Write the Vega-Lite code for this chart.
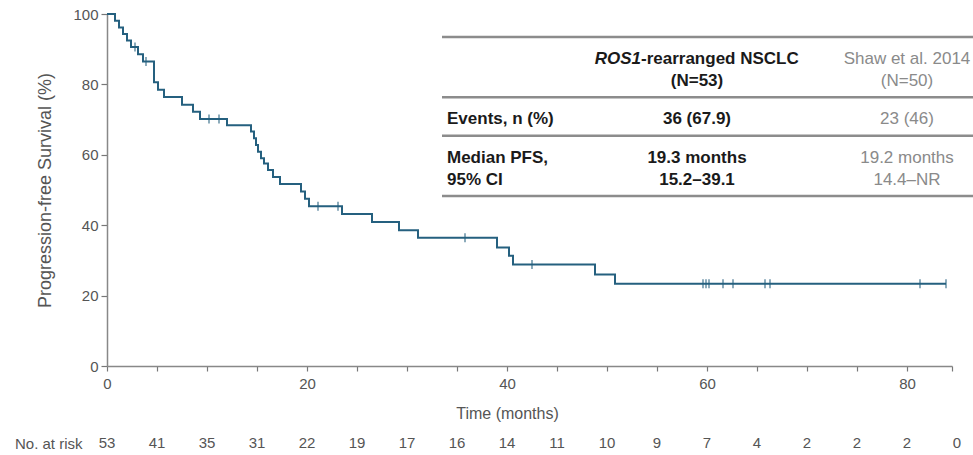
{
  "$schema": "https://vega.github.io/schema/vega-lite/v6.json",
  "padding": {"left": 14, "top": 7, "right": 0, "bottom": 0},
  "background": "white",
  "config": {
    "view": {"stroke": null},
    "font": "Liberation Sans",
    "axis": {"labelFont": "Liberation Sans", "titleFont": "Liberation Sans", "grid": false}
  },
  "spacing": 12,
  "datasets": {
    "curve": [
      {"t": 0, "s": 100}, {"t": 0.8, "s": 98.1}, {"t": 1.2, "s": 96.2}, {"t": 1.6, "s": 94.3},
      {"t": 2.0, "s": 92.5}, {"t": 2.4, "s": 90.6}, {"t": 3.1, "s": 88.6}, {"t": 3.6, "s": 86.5},
      {"t": 4.7, "s": 80.6}, {"t": 5.1, "s": 78.5}, {"t": 5.7, "s": 76.4}, {"t": 7.5, "s": 74.2},
      {"t": 8.6, "s": 72.2}, {"t": 9.3, "s": 70.2}, {"t": 12.0, "s": 68.4}, {"t": 14.4, "s": 66.6},
      {"t": 14.7, "s": 64.7}, {"t": 14.9, "s": 62.8}, {"t": 15.1, "s": 60.9}, {"t": 15.4, "s": 59.0},
      {"t": 15.7, "s": 57.5}, {"t": 16.1, "s": 55.7}, {"t": 16.6, "s": 53.7}, {"t": 17.3, "s": 51.7},
      {"t": 19.4, "s": 49.6}, {"t": 19.8, "s": 47.5}, {"t": 20.2, "s": 45.4}, {"t": 23.5, "s": 43.2},
      {"t": 26.5, "s": 40.9}, {"t": 29.2, "s": 38.6}, {"t": 31.1, "s": 36.4}, {"t": 39.0, "s": 33.7},
      {"t": 40.2, "s": 31.3}, {"t": 40.6, "s": 28.8}, {"t": 48.8, "s": 26.0}, {"t": 50.8, "s": 23.4},
      {"t": 83.9, "s": 23.4}
    ],
    "censor": [
      {"t": 2.8, "s": 90.6}, {"t": 3.9, "s": 86.5}, {"t": 10.2, "s": 70.2}, {"t": 11.2, "s": 70.2},
      {"t": 21.1, "s": 45.4}, {"t": 23.1, "s": 45.4}, {"t": 35.8, "s": 36.4}, {"t": 42.5, "s": 28.8},
      {"t": 59.6, "s": 23.4}, {"t": 59.9, "s": 23.4}, {"t": 60.2, "s": 23.4}, {"t": 61.6, "s": 23.4},
      {"t": 62.6, "s": 23.4}, {"t": 65.8, "s": 23.4}, {"t": 66.3, "s": 23.4}, {"t": 81.3, "s": 23.4},
      {"t": 83.9, "s": 23.4}
    ],
    "atrisk": [
      {"t": 0, "n": 53, "label": "No. at risk"}, {"t": 5, "n": 41, "label": "No. at risk"},
      {"t": 10, "n": 35, "label": "No. at risk"}, {"t": 15, "n": 31, "label": "No. at risk"},
      {"t": 20, "n": 22, "label": "No. at risk"}, {"t": 25, "n": 19, "label": "No. at risk"},
      {"t": 30, "n": 17, "label": "No. at risk"}, {"t": 35, "n": 16, "label": "No. at risk"},
      {"t": 40, "n": 14, "label": "No. at risk"}, {"t": 45, "n": 11, "label": "No. at risk"},
      {"t": 50, "n": 10, "label": "No. at risk"}, {"t": 55, "n": 9, "label": "No. at risk"},
      {"t": 60, "n": 7, "label": "No. at risk"}, {"t": 65, "n": 4, "label": "No. at risk"},
      {"t": 70, "n": 2, "label": "No. at risk"}, {"t": 75, "n": 2, "label": "No. at risk"},
      {"t": 80, "n": 2, "label": "No. at risk"}, {"t": 85, "n": 0, "label": "No. at risk"}
    ],
    "tablerules": [
      {"line": "r0", "from": "start", "to": "end"},
      {"line": "r1", "from": "start", "to": "end"},
      {"line": "r2", "from": "start", "to": "end"},
      {"line": "r3", "from": "start", "to": "end"}
    ],
    "table": [
      {"line": "h1", "col": "ros1", "text": "ROS1"},
      {"line": "h1", "col": "ros1", "text": "-rearranged NSCLC"},
      {"line": "h2", "col": "ros1", "text": "(N=53)"},
      {"line": "h1", "col": "shaw", "text": "Shaw et al. 2014"},
      {"line": "h2", "col": "shaw", "text": "(N=50)"},
      {"line": "ev", "col": "label", "text": "Events, n (%)"},
      {"line": "ev", "col": "ros1", "text": "36 (67.9)"},
      {"line": "ev", "col": "shaw", "text": "23 (46)"},
      {"line": "m1", "col": "label", "text": "Median PFS,"},
      {"line": "m2", "col": "label", "text": "95% CI"},
      {"line": "m1", "col": "ros1", "text": "19.3 months"},
      {"line": "m2", "col": "ros1", "text": "15.2–39.1"},
      {"line": "m1", "col": "shaw", "text": "19.2 months"},
      {"line": "m2", "col": "shaw", "text": "14.4–NR"}
    ]
  },
  "vconcat": [
    {
      "width": 845,
      "height": 352,
      "layer": [
        {
          "data": {"name": "curve"},
          "mark": {"type": "line", "interpolate": "step-after", "color": "#25607f", "strokeWidth": 2},
          "encoding": {
            "x": {
              "field": "t", "type": "quantitative",
              "scale": {"domain": [0, 84.5], "nice": false, "zero": false},
              "axis": {
                "values": [0, 5, 10, 15, 20, 25, 30, 35, 40, 45, 50, 55, 60, 65, 70, 75, 80, 84.5],
                "labelExpr": "datum.value % 20 === 0 ? datum.value : ''",
                "labelFlush": false, "labelOverlap": false,
                "title": "Time (months)", "titleFontSize": 16, "titleFontWeight": "normal", "titleColor": "#555",
                "titlePadding": 14, "titleX": 400,
                "labelFontSize": 15, "labelColor": "#555", "labelPadding": 5,
                "tickSize": 5, "tickColor": "#777", "tickWidth": 1.2,
                "domainColor": "#888", "domainWidth": 1.5
              }
            },
            "y": {
              "field": "s", "type": "quantitative",
              "scale": {"domain": [0, 100], "nice": false},
              "axis": {
                "values": [0, 20, 40, 60, 80, 100],
                "labelFlush": false,
                "title": "Progression-free Survival (%)", "titleFontSize": 18, "titleFontWeight": "normal",
                "titleColor": "#555", "titlePadding": 18,
                "labelFontSize": 15, "labelColor": "#555", "labelPadding": 3,
                "tickSize": 6, "tickColor": "#777", "tickWidth": 1.2,
                "domainColor": "#888", "domainWidth": 1.5
              }
            }
          }
        },
        {
          "data": {"name": "censor"},
          "mark": {"type": "tick", "orient": "vertical", "color": "#25607f", "size": 9, "thickness": 1.5},
          "encoding": {
            "x": {"field": "t", "type": "quantitative", "scale": {"domain": [0, 84.5], "nice": false, "zero": false}, "axis": null},
            "y": {"field": "s", "type": "quantitative", "scale": {"domain": [0, 100], "nice": false}, "axis": null}
          }
        },
        {
          "data": {"name": "tablerules"},
          "mark": {"type": "rule", "color": "#8c8c8c", "strokeWidth": 2.5},
          "encoding": {
            "x": {"field": "from", "type": "nominal", "scale": {"type": "point", "domain": ["start", "end"], "range": [335, 866], "padding": 0}, "axis": null},
            "x2": {"field": "to"},
            "y": {"field": "line", "type": "nominal", "scale": {"type": "point", "domain": ["r0", "_1", "_2", "_3", "h1", "_5", "_6", "_7", "h2", "_9", "_10", "r1", "_12", "_13", "_14", "ev", "_16", "_17", "r2", "_19", "_20", "_21", "m1", "_23", "_24", "_25", "m2", "_27", "_28", "r3"], "range": [23, 182], "padding": 0}, "axis": null}
          }
        },
        {
          "data": {"name": "table"},
          "transform": [{"filter": "datum.col === 'label'"}],
          "mark": {"type": "text", "align": "left", "baseline": "middle", "fontSize": 17, "fontWeight": "bold", "color": "#1a1a1a"},
          "encoding": {
            "x": {"field": "col", "type": "nominal", "scale": {"type": "point", "domain": ["label", "ros1", "shaw"], "range": [340, 800], "padding": 0}, "axis": null},
            "y": {"field": "line", "type": "nominal", "scale": {"type": "point", "domain": ["r0", "_1", "_2", "_3", "h1", "_5", "_6", "_7", "h2", "_9", "_10", "r1", "_12", "_13", "_14", "ev", "_16", "_17", "r2", "_19", "_20", "_21", "m1", "_23", "_24", "_25", "m2", "_27", "_28", "r3"], "range": [23, 182], "padding": 0}, "axis": null},
            "text": {"field": "text"}
          }
        },
        {
          "data": {"name": "table"},
          "transform": [{"filter": "datum.col === 'ros1' && datum.line !== 'h1'"}],
          "mark": {"type": "text", "align": "center", "baseline": "middle", "dx": 20, "fontSize": 17, "fontWeight": "bold", "color": "#1a1a1a"},
          "encoding": {
            "x": {"field": "col", "type": "nominal", "scale": {"type": "point", "domain": ["label", "ros1", "shaw"], "range": [340, 800], "padding": 0}, "axis": null},
            "y": {"field": "line", "type": "nominal", "scale": {"type": "point", "domain": ["r0", "_1", "_2", "_3", "h1", "_5", "_6", "_7", "h2", "_9", "_10", "r1", "_12", "_13", "_14", "ev", "_16", "_17", "r2", "_19", "_20", "_21", "m1", "_23", "_24", "_25", "m2", "_27", "_28", "r3"], "range": [23, 182], "padding": 0}, "axis": null},
            "text": {"field": "text"}
          }
        },
        {
          "data": {"name": "table"},
          "transform": [{"filter": "datum.col === 'ros1' && datum.line === 'h1' && datum.text === 'ROS1'"}],
          "mark": {"type": "text", "align": "right", "baseline": "middle", "dx": -36, "fontSize": 17, "fontWeight": "bold", "fontStyle": "italic", "color": "#1a1a1a"},
          "encoding": {
            "x": {"field": "col", "type": "nominal", "scale": {"type": "point", "domain": ["label", "ros1", "shaw"], "range": [340, 800], "padding": 0}, "axis": null},
            "y": {"field": "line", "type": "nominal", "scale": {"type": "point", "domain": ["r0", "_1", "_2", "_3", "h1", "_5", "_6", "_7", "h2", "_9", "_10", "r1", "_12", "_13", "_14", "ev", "_16", "_17", "r2", "_19", "_20", "_21", "m1", "_23", "_24", "_25", "m2", "_27", "_28", "r3"], "range": [23, 182], "padding": 0}, "axis": null},
            "text": {"field": "text"}
          }
        },
        {
          "data": {"name": "table"},
          "transform": [{"filter": "datum.col === 'ros1' && datum.line === 'h1' && datum.text !== 'ROS1'"}],
          "mark": {"type": "text", "align": "left", "baseline": "middle", "dx": -36, "fontSize": 17, "fontWeight": "bold", "color": "#1a1a1a"},
          "encoding": {
            "x": {"field": "col", "type": "nominal", "scale": {"type": "point", "domain": ["label", "ros1", "shaw"], "range": [340, 800], "padding": 0}, "axis": null},
            "y": {"field": "line", "type": "nominal", "scale": {"type": "point", "domain": ["r0", "_1", "_2", "_3", "h1", "_5", "_6", "_7", "h2", "_9", "_10", "r1", "_12", "_13", "_14", "ev", "_16", "_17", "r2", "_19", "_20", "_21", "m1", "_23", "_24", "_25", "m2", "_27", "_28", "r3"], "range": [23, 182], "padding": 0}, "axis": null},
            "text": {"field": "text"}
          }
        },
        {
          "data": {"name": "table"},
          "transform": [{"filter": "datum.col === 'shaw'"}],
          "mark": {"type": "text", "align": "center", "baseline": "middle", "fontSize": 17, "color": "#8a8a8a"},
          "encoding": {
            "x": {"field": "col", "type": "nominal", "scale": {"type": "point", "domain": ["label", "ros1", "shaw"], "range": [340, 800], "padding": 0}, "axis": null},
            "y": {"field": "line", "type": "nominal", "scale": {"type": "point", "domain": ["r0", "_1", "_2", "_3", "h1", "_5", "_6", "_7", "h2", "_9", "_10", "r1", "_12", "_13", "_14", "ev", "_16", "_17", "r2", "_19", "_20", "_21", "m1", "_23", "_24", "_25", "m2", "_27", "_28", "r3"], "range": [23, 182], "padding": 0}, "axis": null},
            "text": {"field": "text"}
          }
        }
      ],
      "resolve": {"scale": {"x": "independent", "y": "independent"}}
    },
    {
      "width": 845,
      "height": 20,
      "data": {"name": "atrisk"},
      "mark": {"type": "text", "fontSize": 15, "color": "#555"},
      "encoding": {
        "x": {"field": "t", "type": "quantitative", "scale": {"domain": [0, 84.5], "nice": false, "zero": false}, "axis": null},
        "y": {"field": "label", "type": "nominal", "axis": {"title": null, "ticks": false, "domain": false, "labelFontSize": 15, "labelColor": "#555", "labelPadding": 25}},
        "text": {"field": "n"}
      }
    }
  ]
}
